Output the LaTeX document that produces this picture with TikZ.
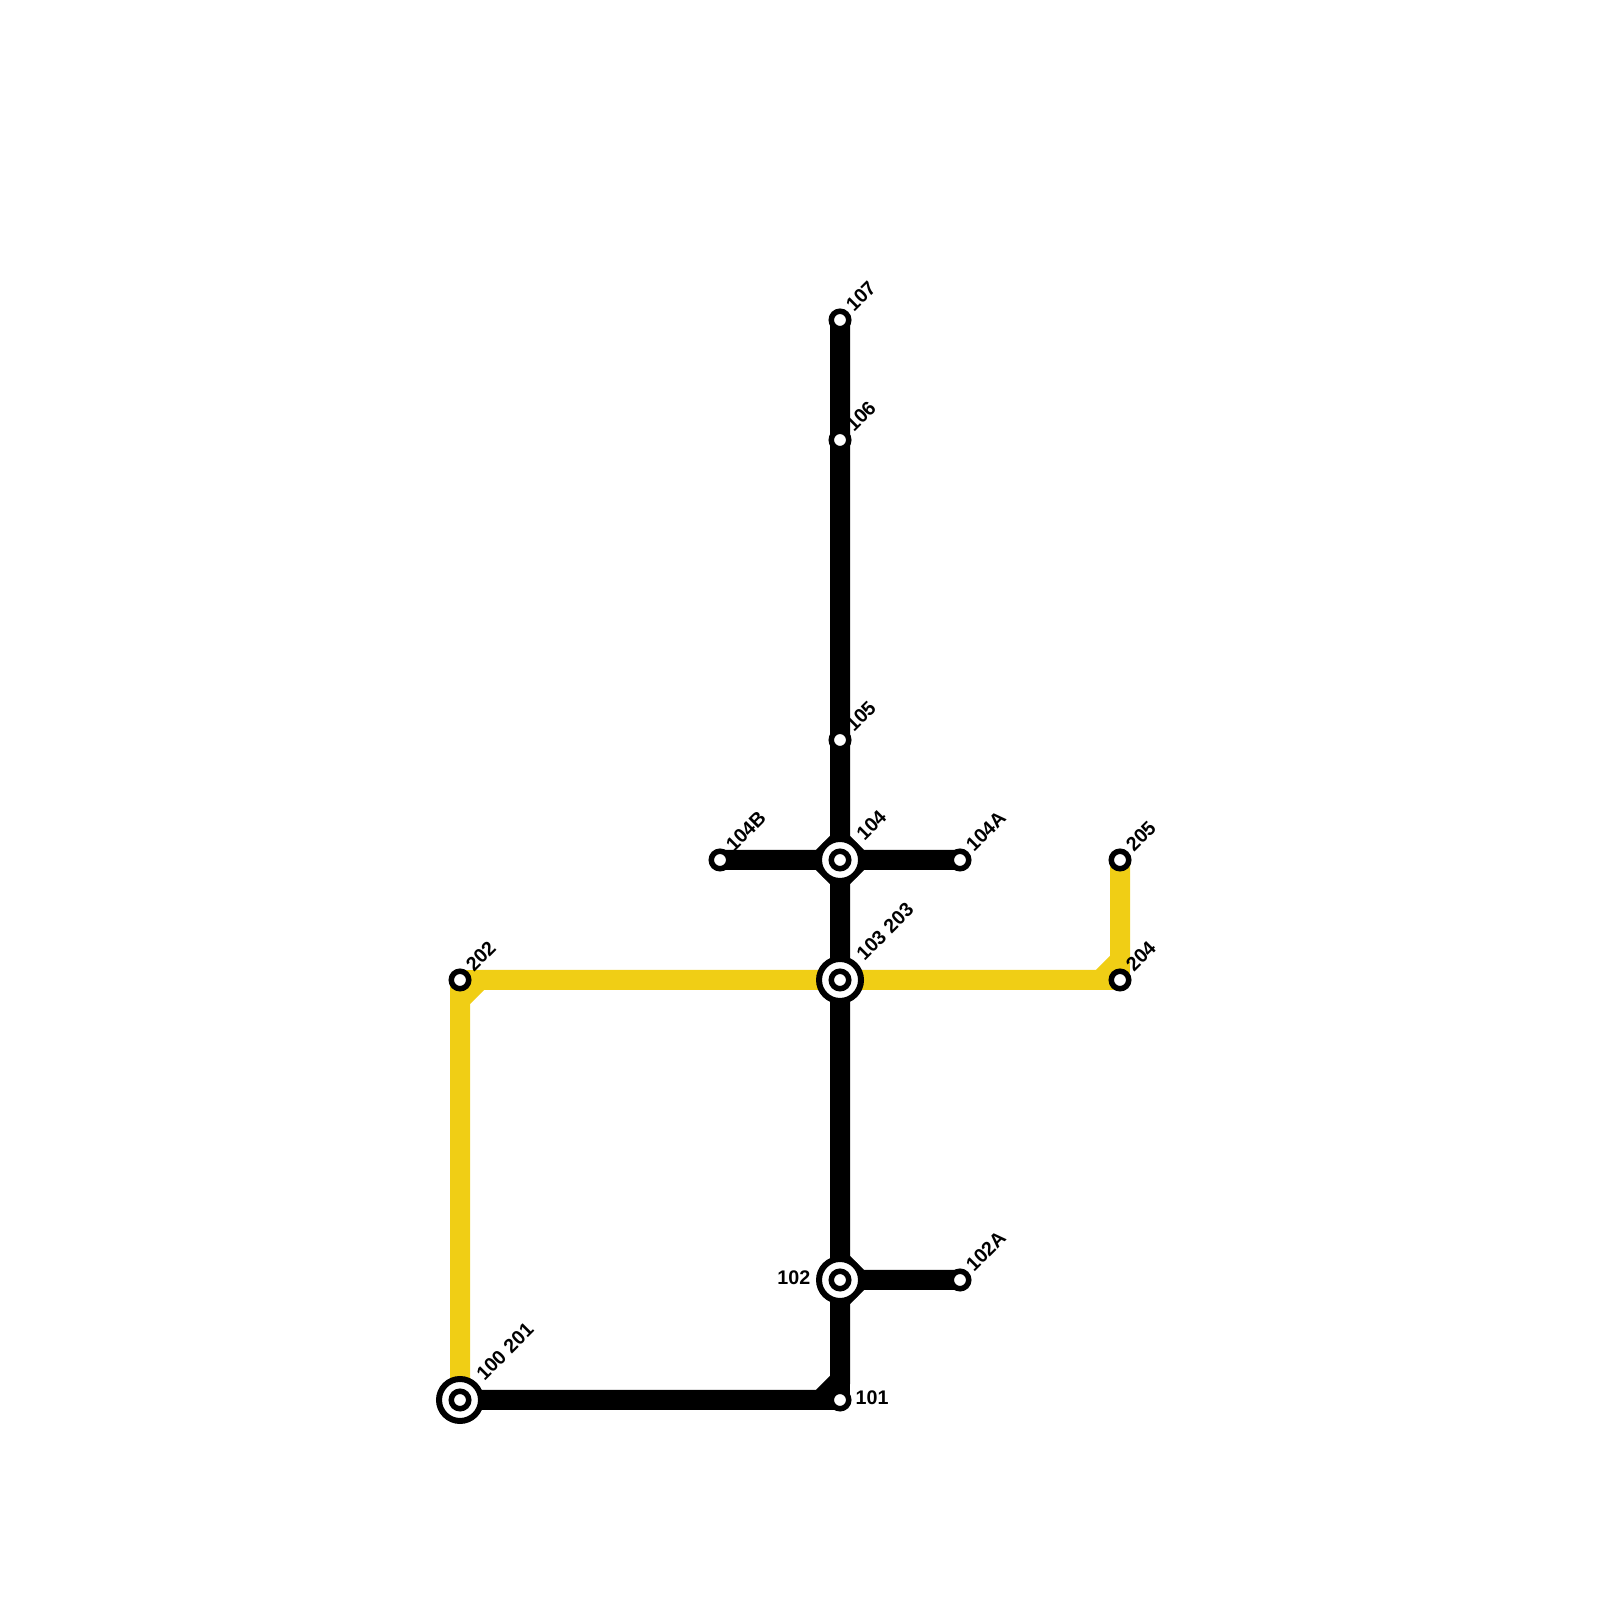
\documentclass[tikz,border=0pt]{standalone}
\usepackage{fontspec}
\setmainfont{Liberation Sans}
\usetikzlibrary{backgrounds,calc}
\definecolor{lineyellow}{HTML}{F0CE15}

\begin{document}
\begin{tikzpicture}[
  font=\fontsize{5.6pt}{6pt}\selectfont\bfseries,
  stop/.style={circle, draw=black, fill=white, line width=0.55mm, inner sep=0pt, outer sep=0pt, minimum size=1.75mm},
  hub/.style={circle, draw=black, fill=white, line width=0.6mm, inner sep=0pt, outer sep=0pt, minimum size=4.2mm},
  tag/.style={xshift=1.35mm, yshift=0.7mm, rotate=45, anchor=base west, inner sep=0pt},
  hubtag/.style={xshift=2.4mm, yshift=1.8mm, rotate=45, anchor=base west, inner sep=0pt},
  flat/.style={inner sep=0pt},
  track/.style={line width=2mm, draw=black},
  yellowtrack/.style={line width=2mm, draw=lineyellow},
]
\useasboundingbox (0,0) rectangle (16,16);

% interchanges
\node[hub] (h100) at (4.6,2) {};
\node[hub] (h102) at (8.4,3.2) {};
\node[hub] (h103) at (8.4,6.2) {};
\node[hub] (h104) at (8.4,7.4) {};

% stops
\node[stop] (s100) at (4.6,2) {};
\node[stop] (s101) at (8.4,2) {};
\node[stop] (s102) at (8.4,3.2) {};
\node[stop] (s102A) at (9.6,3.2) {};
\node[stop] (s103) at (8.4,6.2) {};
\node[stop] (s104) at (8.4,7.4) {};
\node[stop] (s104A) at (9.6,7.4) {};
\node[stop] (s104B) at (7.2,7.4) {};
\node[stop] (s105) at (8.4,8.6) {};
\node[stop] (s106) at (8.4,11.6) {};
\node[stop] (s107) at (8.4,12.8) {};
\node[stop] (s202) at (4.6,6.2) {};
\node[stop] (s204) at (11.2,6.2) {};
\node[stop] (s205) at (11.2,7.4) {};

% corners of the tracks
\coordinate (c101w) at (8.2,2);
\coordinate (c101n) at (8.4,2.2);
\coordinate (c102n) at (8.4,3.4);
\coordinate (c102e) at (8.6,3.2);
\coordinate (c102s) at (8.4,3.0);
\coordinate (c104n) at (8.4,7.6);
\coordinate (c104e) at (8.6,7.4);
\coordinate (c104s) at (8.4,7.2);
\coordinate (c104w) at (8.2,7.4);
\coordinate (c202s) at (4.6,6.0);
\coordinate (c202e) at (4.8,6.2);
\coordinate (c204w) at (11.0,6.2);
\coordinate (c204n) at (11.2,6.4);

\begin{scope}[on background layer]
  \draw[track] (s100.center) -- (c101w) -- (c101n) -- (s107.center);
  \draw[track] (s101.center) -- (c101n);
  \draw[track] (c101w) -- (s101.center);
  \draw[track] (s102A.center) -- (c102e) -- (c102n);
  \draw[track] (c102e) -- (c102s);
  \draw[track] (s104A.center) -- (c104e) -- (c104n);
  \draw[track] (c104e) -- (c104s);
  \draw[track] (s104B.center) -- (c104w) -- (c104n);
  \draw[track] (c104w) -- (c104s);
  \draw[yellowtrack] (s100.center) -- (c202s) -- (c202e) -- (s103.center);
  \draw[yellowtrack] (c202s) -- (s202.center);
  \draw[yellowtrack] (s202.center) -- (c202e);
  \draw[yellowtrack] (s103.center) -- (c204w) -- (c204n) -- (s205.center);
  \draw[yellowtrack] (c204w) -- (s204.center);
  \draw[yellowtrack] (s204.center) -- (c204n);
\end{scope}

% labels
\node[hubtag] (t100) at (s100) {100 201};
\node[flat, anchor=base west] (t101) at ($(s101)+(0.15,-0.05)$) {101};
\node[flat, anchor=base east] (t102) at ($(s102)+(-0.29,-0.05)$) {102};
\node[tag] (t102A) at (s102A) {102A};
\node[hubtag] (t103) at (s103) {103 203};
\node[hubtag] (t104) at (s104) {104};
\node[tag] (t104A) at (s104A) {104A};
\node[tag] (t104B) at (s104B) {104B};
\node[tag] (t105) at (s105) {105};
\node[tag] (t106) at (s106) {106};
\node[tag] (t107) at (s107) {107};
\node[tag] (t202) at (s202) {202};
\node[tag] (t204) at (s204) {204};
\node[tag] (t205) at (s205) {205};
\end{tikzpicture}
\end{document}
